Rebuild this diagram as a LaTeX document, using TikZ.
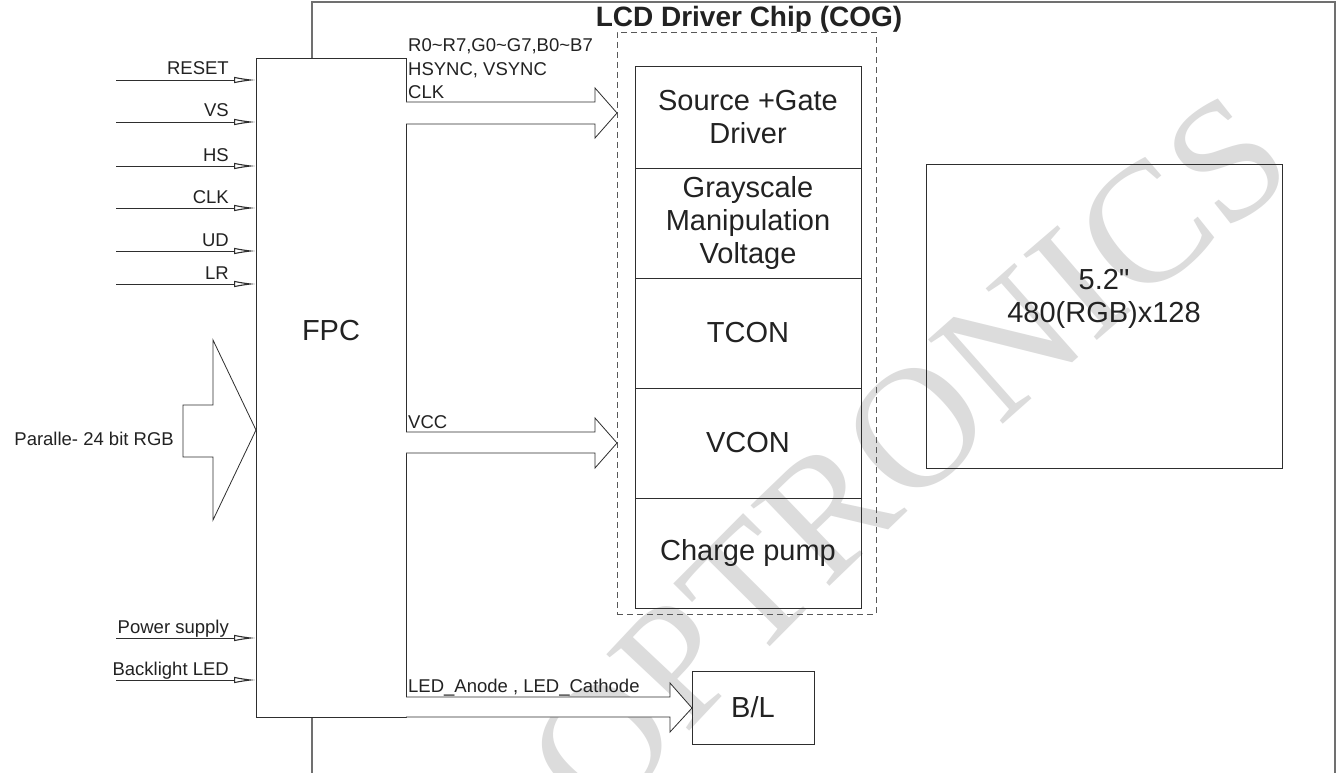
\documentclass[tikz,border=0pt]{standalone}
\usepackage{fontspec}
\setmainfont{Liberation Sans}
\newfontfamily\wmserif{Liberation Serif}
\usetikzlibrary{arrows.meta,decorations.text}
\definecolor{ink}{HTML}{222222}
\definecolor{edge}{HTML}{2E2E2E}
\definecolor{frame}{HTML}{707070}
\definecolor{wm}{HTML}{DCDCDC}
\newcommand{\sigfont}{\fontsize{18.5}{22}\selectfont}
\newcommand{\blkfont}{\fontsize{29}{33}\selectfont}
\newcommand{\ttlfont}{\fontsize{28}{32}\selectfont\bfseries}
\newcommand{\wmfontsel}{\wmserif\fontsize{172}{172}\selectfont}
\tikzset{
  box/.style={draw=edge, line width=0.8pt, rectangle, inner sep=0pt, outer sep=0pt, anchor=north west},
  sig/.style={draw=edge, line width=0.8pt, -{Latex[open,length=22pt,width=6.5pt,line width=1.1pt]}},
  siglabel/.style={font=\sigfont, text=ink, anchor=base east, inner sep=0pt},
  buslabel/.style={font=\sigfont, text=ink, anchor=base west, inner sep=0pt},
  blktext/.style={font=\blkfont, text=ink, align=center, inner sep=0pt},
  hollow/.style={draw=edge, line width=0.8pt, fill=white, line join=miter},
  gap/.style={draw=white, line width=1.4pt},
}
\begin{document}
\begin{tikzpicture}[x=1pt,y=-1pt]
\useasboundingbox (0,0) rectangle (1338,773);
\fill[white] (0,0) rectangle (1338,773);

% watermark
\path[color=wm, decorate, decoration={text along path, text={|\wmfontsel\color{wm}|OPTRONICS}, text align=center}]
  (575,870) .. controls (725,660) and (1140,290) .. (1340,145);

% chip outline (open at the bottom)
\coordinate (chipBL) at (312,773);
\coordinate (chipTL) at (312,2);
\coordinate (chipTR) at (1335,2);
\coordinate (chipBR) at (1335,773);
\draw[frame, line width=1.3pt] (chipBL) -- (chipTL) -- (chipTR) -- (chipBR);
\node[font=\ttlfont, text=ink, anchor=base, inner sep=0pt] (title) at (749,27) {LCD Driver Chip (COG)};

% FPC
\node[box, fill=white, minimum width=150pt, minimum height=659pt] (fpc) at (256,58) {};
\node[blktext] (fpclab) at (331,331) {FPC};

% driver core
\node[box, draw=edge!80, dash pattern=on 6pt off 4pt, minimum width=259pt, minimum height=582pt] (core) at (617,32) {};
\node[box, minimum width=226pt, minimum height=102pt] (r1) at (635,66) {};
\node[box, minimum width=226pt, minimum height=110pt] (r2) at (635,168) {};
\node[box, minimum width=226pt, minimum height=110pt] (r3) at (635,278) {};
\node[box, minimum width=226pt, minimum height=110pt] (r4) at (635,388) {};
\node[box, minimum width=226pt, minimum height=110pt] (r5) at (635,498) {};
\node[blktext] (t1) at (r1.center) {Source +Gate\\Driver};
\node[blktext] (t2) at (r2.center) {Grayscale\\Manipulation\\Voltage};
\node[blktext] (t3) at (r3.center) {TCON};
\node[blktext] (t4) at (r4.center) {VCON};
\node[blktext] (t5) at (r5.center) {Charge pump};

% panel
\node[box, minimum width=356pt, minimum height=304pt] (panel) at (926,164) {};
\node[blktext] (ptext) at (1104,299) {5.2\textquotedbl\\480(RGB)x128};

% backlight
\node[box, minimum width=122pt, minimum height=73pt] (bl) at (692,671) {};
\node[blktext] (bltext) at (bl.center) {B/L};

% input signals
\foreach \n/\t/\y in {rst/RESET/80, vs/VS/122, hs/HS/166, clk/CLK/208, ud/UD/251, lr/LR/284, pwr/Power supply/638, led/Backlight LED/680}{
  \coordinate (in-\n) at (116,\y);
  \draw[sig] (in-\n) -- (in-\n -| fpc.west);
  \node[siglabel] (lab-\n) at (229,{\y-5}) {\t};
}

% parallel RGB arrow
\draw[hollow] (fpc.west |- 0,430) -- (213,340) -- (213,405) -- (183,405) -- (183,457) -- (213,457) -- (213,520) -- cycle;
\node[font=\sigfont, text=ink, anchor=east, inner sep=0pt] (rgb) at (174,439) {Paralle- 24 bit RGB};

% data bus to core
\draw[gap] (fpc.east |- 0,102.8) -- (fpc.east |- 0,123.2);
\draw[hollow] (fpc.east |- 0,102) -- (595,102) -- (595,88) -- (core.west |- 0,113) -- (595,138) -- (595,124) -- (fpc.east |- 0,124);
\node[buslabel] (b1) at (408,52) {R0\textasciitilde R7,G0\textasciitilde G7,B0\textasciitilde B7};
\node[buslabel] (b2) at (408,76) {HSYNC, VSYNC};
\node[buslabel] (b3) at (408,99) {CLK};

% VCC
\draw[gap] (fpc.east |- 0,432.8) -- (fpc.east |- 0,452.2);
\draw[hollow] (fpc.east |- 0,432) -- (595,432) -- (595,418) -- (core.west |- 0,443) -- (595,468) -- (595,453) -- (fpc.east |- 0,453);
\node[buslabel] (vcc) at (408,428) {VCC};

% LED
\draw[gap] (fpc.east |- 0,697.8) -- (fpc.east |- 0,716.2);
\draw[hollow] (fpc.east |- 0,697) -- (670,697) -- (670,683) -- (bl.west |- 0,708) -- (670,732) -- (670,717) -- (fpc.south east);
\node[buslabel] (ledlab) at (408,692) {LED\_Anode , LED\_Cathode};
\end{tikzpicture}
\end{document}
